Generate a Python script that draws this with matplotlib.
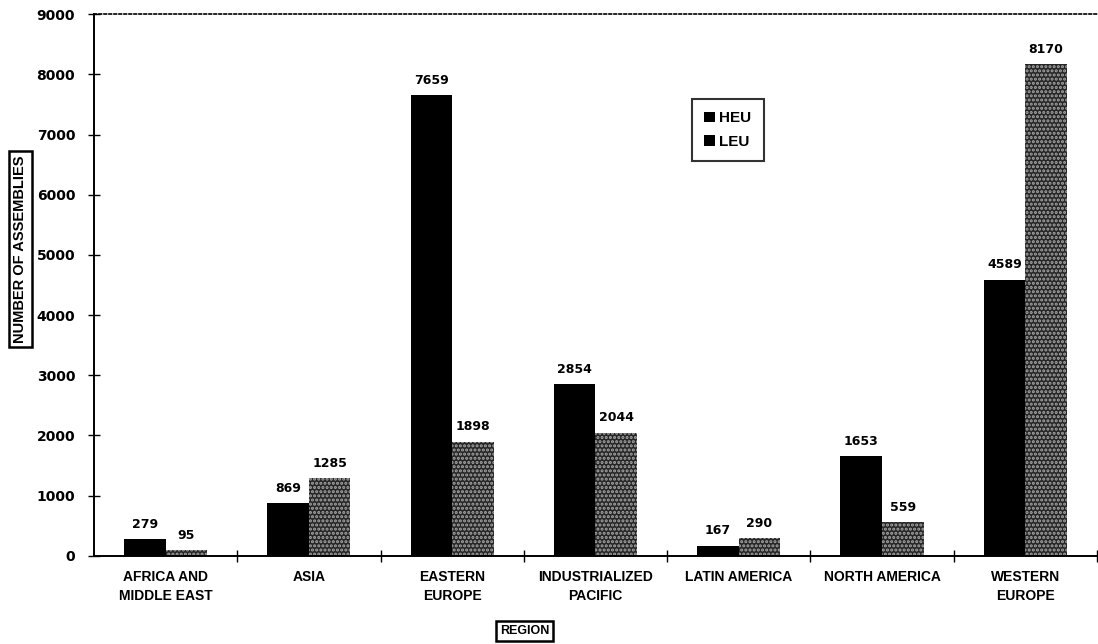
import matplotlib
matplotlib.use("Agg")
import matplotlib.pyplot as plt
import numpy as np
from matplotlib.patches import Patch

regions = ["AFRICA AND\nMIDDLE EAST", "ASIA", "EASTERN\nEUROPE", "INDUSTRIALIZED\nPACIFIC",
           "LATIN AMERICA", "NORTH AMERICA", "WESTERN\nEUROPE"]
heu = [279, 869, 7659, 2854, 167, 1653, 4589]
leu = [95, 1285, 1898, 2044, 290, 559, 8170]
y_ticks = [0, 1000, 2000, 3000, 4000, 5000, 6000, 7000, 8000, 9000]

NARROW = ['Liberation Sans Narrow', 'Liberation Sans', 'DejaVu Sans']
WIDE = ['DejaVu Sans']
plt.rcParams['font.family'] = NARROW
plt.rcParams['hatch.linewidth'] = 1.5

fig = plt.figure(figsize=(10.98, 6.44), dpi=100)
ax = fig.add_axes([0.0856, 0.137, 0.9134, 0.841])

x = np.arange(len(regions))
w = 0.29
b1 = ax.bar(x - w / 2, heu, w, color='black', linewidth=0, label='HEU')
b2 = ax.bar(x + w / 2, leu, w, facecolor='#262626', edgecolor='#a8a8a8', hatch='....',
            linewidth=0, label='LEU')

for rects, vals in ((b1, heu), (b2, leu)):
    for r, v in zip(rects, vals):
        ax.annotate(str(v), (r.get_x() + r.get_width() / 2, v), xytext=(0, 6),
                    textcoords='offset points', ha='center', va='bottom',
                    fontsize=9, fontweight='bold', family=WIDE)

ax.set_xlim(-0.5, len(regions) - 0.5)
ax.set_ylim(0, 9000)
ax.set_yticks(y_ticks)
ax.set_yticklabels([str(t) for t in y_ticks], fontsize=10, fontweight='bold', family=WIDE)
ax.tick_params(axis='y', direction='inout', length=9, width=1, pad=9)

ax.set_xticks(x)
ax.set_xticklabels(regions, fontsize=10, fontweight='bold', linespacing=1.45)
ax.tick_params(axis='x', which='major', length=0, pad=10)
ax.set_xticks(np.arange(len(regions)) + 0.5, minor=True)
ax.tick_params(axis='x', which='minor', direction='inout', length=8, width=1)

ax.spines['right'].set_visible(False)
ax.spines['top'].set_linestyle((0, (1.5, 1.5)))
ax.spines['top'].set_linewidth(1.2)
ax.spines['left'].set_linewidth(1.4)
ax.spines['bottom'].set_linewidth(1.4)

bbox = dict(boxstyle='square,pad=0.3', facecolor='white', edgecolor='black', linewidth=1.8)
fig.text(0.0185, 0.613, "NUMBER OF ASSEMBLIES", rotation=90, ha='center', va='center',
         fontsize=10.5, fontweight='bold', family=['Liberation Sans', 'DejaVu Sans'], bbox=bbox)
fig.text(0.478, 0.02, "REGION", ha='center', va='center', fontsize=9,
         fontweight='bold', family=['Liberation Sans', 'DejaVu Sans'], bbox=bbox)

handles = [Patch(facecolor='black', label='HEU'),
           Patch(facecolor='black', label='LEU')]
leg = ax.legend(handles=handles, loc='center', bbox_to_anchor=(0.632, 0.786),
                frameon=True, fancybox=False, edgecolor='black', fontsize=11,
                handlelength=0.7, handleheight=0.7, handletextpad=0.3,
                borderpad=0.8, borderaxespad=0, labelspacing=0.6)
leg.get_frame().set_linewidth(1.5)
for t in leg.get_texts():
    t.set_fontweight('bold')

fig.savefig("out.png", dpi=100)
